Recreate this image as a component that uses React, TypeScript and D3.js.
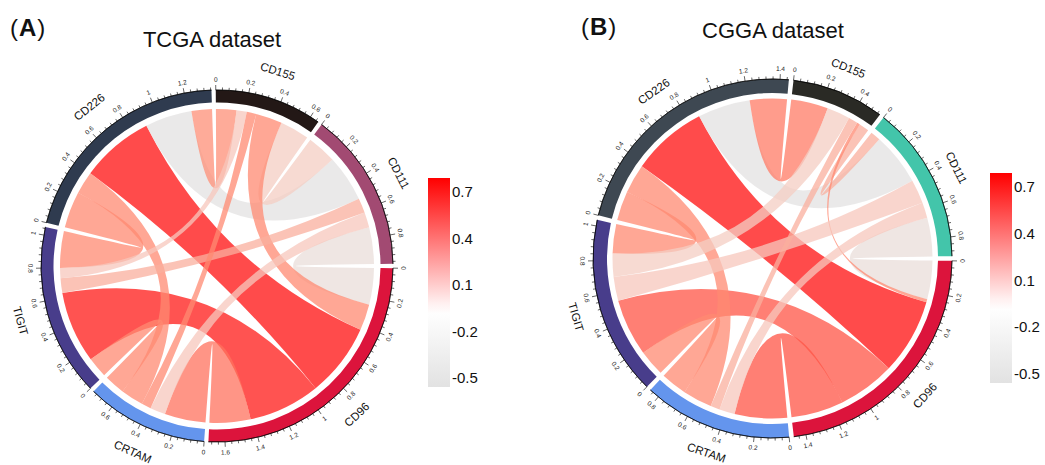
import React from "react";
import * as d3 from "d3";

// clockwise sector order, starting at 3 o'clock
const sectorOrder = ["CD96", "CRTAM", "TIGIT", "CD226", "CD155", "CD111"];

const linkPairs: [string, string][] = [
  ["CD226", "CD96"],
  ["TIGIT", "CD96"],
  ["CD226", "CD111"],
  ["CRTAM", "CD96"],
  ["CD111", "CD96"],
  ["CD226", "TIGIT"],
  ["CD155", "CD111"],
  ["CD155", "CD96"],
  ["CD226", "CRTAM"],
  ["CRTAM", "TIGIT"],
  ["CD226", "CD155"],
  ["CD111", "CRTAM"],
  ["CD111", "TIGIT"],
  ["CD155", "TIGIT"],
  ["CD155", "CRTAM"],
];

// link widths (ribbon weight) and correlation (colour)
const tcgaWidth = [0.5, 0.49, 0.32, 0.28, 0.25, 0.25, 0.2, 0.18, 0.155, 0.14, 0.14, 0.105, 0.1, 0.07, 0.065];
const tcgaCorr = [0.7, 0.68, -0.45, 0.5, 0.0, 0.45, 0.15, 0.45, 0.45, 0.45, 0.43, 0.2, 0.3, 0.2, 0.45];
const cggaWidth = [0.49, 0.37, 0.34, 0.34, 0.25, 0.19, 0.065, 0.02, 0.19, 0.17, 0.24, 0.1, 0.155, 0.15, 0.06];
const cggaCorr = [0.7, 0.56, -0.45, 0.56, 0.0, 0.45, 0.3, 0.45, 0.45, 0.45, 0.48, 0.2, 0.2, 0.15, 0.3];

const tcgaSectorColors = ["#dc143c", "#6495ed", "#483d8b", "#2f3b4f", "#231816", "#a24a72"];
const cggaSectorColors = ["#dc143c", "#6495ed", "#483d8b", "#3e4852", "#2a2a25", "#43c5aa"];

const legendTicks = [0.7, 0.4, 0.1, -0.2, -0.5];
const legendRange = [0.79, -0.56];

const linkColor = d3
  .scaleLinear<string>()
  .domain([-0.5, 0, 0.2, 0.45, 0.7])
  .range(["#e2e2e2", "#eaded9", "#f7c7bc", "#ff8a71", "#ff0f0f"])
  .clamp(true);

const legendColor = d3
  .scaleLinear<string>()
  .domain([-0.56, -0.07, 0.79])
  .range(["#e2e2e2", "#ffffff", "#ff0000"])
  .interpolate(d3.interpolateRgb);

const FONT = "'Liberation Sans', Arial, Helvetica, sans-serif";

type Panel = {
  cx: number;
  cy: number;
  rOut: number;
  rIn: number;
  rLink: number;
  gap: number;
  nameOffset: number;
  widths: number[];
  corr: number[];
  colors: string[];
};

function layout(widths: number[], gap: number) {
  const n = sectorOrder.length;
  const idx = new Map(sectorOrder.map((s, i) => [s, i]));
  const mat: number[][] = Array.from({ length: n }, () => Array(n).fill(0));
  linkPairs.forEach(([a, b], k) => {
    const i = idx.get(a)!;
    const j = idx.get(b)!;
    mat[i][j] = widths[k];
    mat[j][i] = widths[k];
  });
  const totals = mat.map((r) => d3.sum(r));
  const dpu = (360 - n * gap) / d3.sum(totals);
  const pos: [number, number][][] = Array.from({ length: n }, () => Array(n).fill([0, 0]));
  const sectors: { name: string; start: number; end: number; total: number }[] = [];
  let a = 90 + gap / 2;
  for (let i = 0; i < n; i++) {
    const start = a;
    const end = a + totals[i] * dpu;
    sectors.push({ name: sectorOrder[i], start, end, total: totals[i] });
    let cur = start;
    for (let k = 1; k < n; k++) {
      const j = (i - k + n) % n;
      const w = mat[i][j] * dpu;
      pos[i][j] = [cur, cur + w];
      cur += w;
    }
    a = end + gap;
  }
  return { sectors, pos, dpu, idx };
}

const rad = Math.PI / 180;

function placeText(r: number, deg: number) {
  const x = r * Math.sin(deg * rad);
  const y = -r * Math.cos(deg * rad);
  const a = ((deg % 360) + 360) % 360;
  const rot = a > 90 && a < 270 ? a - 180 : a;
  return `translate(${x.toFixed(2)},${y.toFixed(2)}) rotate(${rot.toFixed(2)})`;
}

function Chord({ p }: { p: Panel }) {
  const { sectors, pos, dpu, idx } = layout(p.widths, p.gap);
  const ribbon = d3.ribbon<any, any>().radius(p.rLink);
  const arc = d3.arc<any>();
  const baseArc = d3.arc<any>();
  return (
    <g transform={`translate(${p.cx},${p.cy})`}>
      {linkPairs.map(([a, b], k) => {
        const i = idx.get(a)!;
        const j = idx.get(b)!;
        const s = pos[i][j];
        const t = pos[j][i];
        const d = ribbon({
          source: { startAngle: s[0] * rad, endAngle: s[1] * rad },
          target: { startAngle: t[0] * rad, endAngle: t[1] * rad },
        } as any) as unknown as string;
        return <path key={k} d={d} fill={linkColor(p.corr[k])} fillOpacity={0.75} stroke="none" />;
      })}
      {sectors.map((s, i) => {
        const d = arc({
          innerRadius: p.rIn,
          outerRadius: p.rOut,
          startAngle: s.start * rad,
          endAngle: s.end * rad,
        }) as string;
        const base = baseArc({
          innerRadius: p.rOut,
          outerRadius: p.rOut,
          startAngle: s.start * rad,
          endAngle: s.end * rad,
        }) as string;
        const nTicks = Math.floor(s.total / 0.04 + 1e-6);
        const ticks = d3.range(nTicks + 1).map((k) => ({ k, v: k * 0.04 }));
        const mid = (s.start + s.end) / 2;
        return (
          <g key={s.name}>
            <path d={d} fill={p.colors[i]} />
            <path d={base} fill="none" stroke="#000" strokeWidth={0.6} />
            {ticks.map(({ k, v }) => {
              const ang = (s.start + v * dpu) * rad;
              const major = k % 5 === 0;
              const r2 = p.rOut + (major ? 5 : 2.6);
              return (
                <line
                  key={k}
                  x1={p.rOut * Math.sin(ang)}
                  y1={-p.rOut * Math.cos(ang)}
                  x2={r2 * Math.sin(ang)}
                  y2={-r2 * Math.cos(ang)}
                  stroke="#000"
                  strokeWidth={0.6}
                />
              );
            })}
            {ticks
              .filter((t) => t.k % 5 === 0)
              .map(({ k, v }) => (
                <text
                  key={"l" + k}
                  transform={placeText(p.rOut + 10.5, s.start + v * dpu)}
                  textAnchor="middle"
                  dy="0.35em"
                  fontSize={6.5}
                  fontFamily={FONT}
                  fill="#222"
                >
                  {String(Math.round(v * 10) / 10)}
                </text>
              ))}
            <text
              transform={placeText(p.rOut + p.nameOffset, mid)}
              textAnchor="middle"
              dy="0.35em"
              fontSize={11.5}
              fontFamily={FONT}
              fill="#111"
            >
              {s.name}
            </text>
          </g>
        );
      })}
    </g>
  );
}

function Legend({ x, y, w, h, id }: { x: number; y: number; w: number; h: number; id: string }) {
  const ys = d3.scaleLinear().domain(legendRange).range([y, y + h]);
  const stops = d3.range(0, 1.0001, 0.05);
  return (
    <g>
      <defs>
        <linearGradient id={id} x1="0" y1="0" x2="0" y2="1">
          {stops.map((f, i) => (
            <stop
              key={i}
              offset={f}
              stopColor={legendColor(legendRange[0] + f * (legendRange[1] - legendRange[0]))}
            />
          ))}
        </linearGradient>
      </defs>
      <rect x={x} y={y} width={w} height={h} fill={`url(#${id})`} />
      {legendTicks.map((t) => (
        <text key={t} x={x + w + 2} y={ys(t)} dy="0.35em" fontSize={15} fontFamily={FONT} fill="#111">
          {String(t)}
        </text>
      ))}
    </g>
  );
}

export default function App() {
  const panelA: Panel = {
    cx: 217,
    cy: 266,
    rOut: 176,
    rIn: 163.5,
    rLink: 157,
    gap: 1.4,
    nameOffset: 28,
    widths: tcgaWidth,
    corr: tcgaCorr,
    colors: tcgaSectorColors,
  };
  const panelB: Panel = {
    cx: 772.5,
    cy: 258.5,
    rOut: 179.5,
    rIn: 165.5,
    rLink: 160,
    gap: 1.5,
    nameOffset: 25.5,
    widths: cggaWidth,
    corr: cggaCorr,
    colors: cggaSectorColors,
  };
  return (
    <svg
      width={1045}
      height={465}
      style={{ position: "absolute", left: 0, top: 0, background: "#fff" }}
      xmlns="http://www.w3.org/2000/svg"
    >
      <rect x={0} y={0} width={1045} height={465} fill="#fff" />
      <text x={10} y={36} fontSize={24} fontFamily={FONT} fill="#111">
        (<tspan fontWeight="bold" dx={1}>A</tspan><tspan dx={1}>)</tspan>
      </text>
      <text x={212} y={47} fontSize={22} fontFamily={FONT} textAnchor="middle" fill="#111">
        TCGA dataset
      </text>
      <text x={581} y={35} fontSize={24} fontFamily={FONT} fill="#111">
        (<tspan fontWeight="bold" dx={1}>B</tspan><tspan dx={1}>)</tspan>
      </text>
      <text x={773} y={38} fontSize={22} fontFamily={FONT} textAnchor="middle" fill="#111">
        CGGA dataset
      </text>
      <Chord p={panelA} />
      <Chord p={panelB} />
      <Legend x={428} y={178} w={22} h={209} id="gradA" />
      <Legend x={990} y={173} w={22} h={210} id="gradB" />
    </svg>
  );
}
